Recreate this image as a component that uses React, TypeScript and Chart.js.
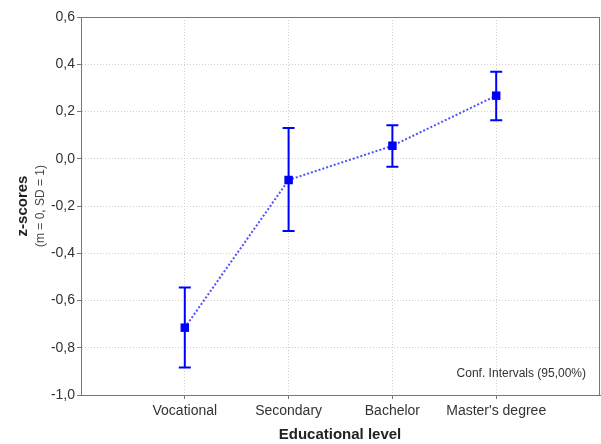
import React, { useEffect, useRef } from "react";
import { Chart, registerables } from "chart.js";

Chart.register(...registerables);

const categories = ["Vocational", "Secondary", "Bachelor", "Master's degree"];
const means = [-0.715, -0.09, 0.055, 0.267];
const upper = [-0.545, 0.13, 0.142, 0.368];
const lower = [-0.884, -0.306, -0.034, 0.163];
const yTicks = [-1.0, -0.8, -0.6, -0.4, -0.2, 0.0, 0.2, 0.4, 0.6];

const FONT = "'Liberation Sans', Arial, sans-serif";

const errorBars = {
  id: "errorBars",
  afterDatasetsDraw(chart: any) {
    const { ctx, scales } = chart;
    const xs = scales.x;
    const ys = scales.y;
    ctx.save();
    ctx.strokeStyle = "#0000ff";
    ctx.lineWidth = 2;
    categories.forEach((_, i) => {
      const x = xs.getPixelForValue(i + 1);
      const yu = ys.getPixelForValue(upper[i]);
      const yl = ys.getPixelForValue(lower[i]);
      ctx.beginPath();
      ctx.moveTo(x, yu);
      ctx.lineTo(x, yl);
      ctx.moveTo(x - 6, yu);
      ctx.lineTo(x + 6, yu);
      ctx.moveTo(x - 6, yl);
      ctx.lineTo(x + 6, yl);
      ctx.stroke();
    });
    ctx.restore();
  },
};

const decorations = {
  id: "decorations",
  afterDraw(chart: any) {
    const { ctx, chartArea } = chart;
    const { left, right, top, bottom } = chartArea;
    ctx.save();
    ctx.strokeStyle = "#777777";
    ctx.lineWidth = 1;
    ctx.strokeRect(left + 0.5, top + 0.5, right - left - 1, bottom - top);
    // y axis title
    const cy = (top + bottom) / 2;
    ctx.fillStyle = "#222222";
    ctx.textAlign = "center";
    ctx.textBaseline = "middle";
    ctx.save();
    ctx.translate(23, cy);
    ctx.rotate(-Math.PI / 2);
    ctx.font = `bold 15px ${FONT}`;
    ctx.fillText("z-scores", 0, 0);
    ctx.restore();
    ctx.save();
    ctx.translate(41, cy);
    ctx.rotate(-Math.PI / 2);
    ctx.font = `12px ${FONT}`;
    ctx.fillStyle = "#444444";
    ctx.fillText("(m = 0, SD = 1)", 0, 0);
    ctx.restore();
    // note
    ctx.font = `12px ${FONT}`;
    ctx.fillStyle = "#333333";
    ctx.textAlign = "right";
    ctx.fillText("Conf. Intervals (95,00%)", right - 14, bottom - 21);
    // x title
    ctx.font = `bold 15px ${FONT}`;
    ctx.fillStyle = "#222222";
    ctx.textAlign = "center";
    ctx.fillText("Educational level", 340, 435);
    ctx.restore();
  },
};

export default function App() {
  const ref = useRef<HTMLCanvasElement>(null);
  useEffect(() => {
    document.body.style.margin = "0";
    const chart = new Chart(ref.current as HTMLCanvasElement, {
      type: "scatter",
      data: {
        datasets: [
          {
            data: means.map((m, i) => ({ x: i + 1, y: m })),
            showLine: true,
            borderColor: "rgba(50,50,255,0.85)",
            borderWidth: 2,
            borderDash: [2, 2],
            pointStyle: "rect",
            pointRadius: 6,
            pointHoverRadius: 6,
            backgroundColor: "#0000ff",
            pointBorderWidth: 0,
          },
        ],
      },
      options: {
        animation: false,
        responsive: false,
        maintainAspectRatio: false,
        layout: { autoPadding: false, padding: { left: 0, right: 1, top: 17, bottom: 0 } },
        plugins: { legend: { display: false }, tooltip: { enabled: false } },
        scales: {
          x: {
            type: "linear",
            min: 0,
            max: 5,
            afterBuildTicks: (s: any) => {
              s.ticks = categories.map((_, i) => ({ value: i + 1 }));
            },
            afterFit: (s: any) => {
              s.height = 49;
              s.paddingLeft = 0;
              s.paddingRight = 0;
            },
            ticks: {
              callback: (v: any) => categories[Number(v) - 1] ?? "",
              font: { family: FONT, size: 14 },
              color: "#333333",
              padding: 4,
              maxRotation: 0,
              autoSkip: false,
            },
            grid: {
              color: "#cfcfcf",
              tickColor: "#777777",
              tickLength: 4,
            },
            border: { display: true, color: "#777777", dash: [1, 2] },
          },
          y: {
            min: -1.0,
            max: 0.6,
            afterBuildTicks: (s: any) => {
              s.ticks = yTicks.map((v) => ({ value: v }));
            },
            afterFit: (s: any) => {
              s.width = 81;
              s.paddingTop = 0;
              s.paddingBottom = 0;
            },
            ticks: {
              callback: (v: any) => Number(v).toFixed(1).replace(".", ","),
              font: { family: FONT, size: 14 },
              color: "#333333",
              padding: 2,
            },
            grid: {
              color: "#cfcfcf",
              tickColor: "#777777",
              tickLength: 4,
            },
            border: { display: true, color: "#777777", dash: [1, 2] },
          },
        },
      } as any,
      plugins: [errorBars, decorations],
    });
    return () => chart.destroy();
  }, []);
  return (
    <div style={{ position: "absolute", left: 0, top: 0, width: 601, height: 444, background: "#fff" }}>
      <canvas ref={ref} width={601} height={444} style={{ width: 601, height: 444 }} />
    </div>
  );
}
